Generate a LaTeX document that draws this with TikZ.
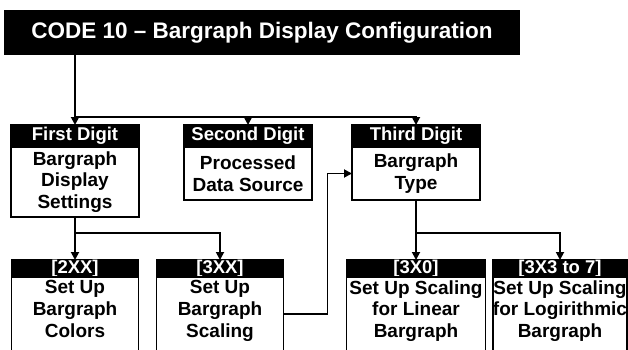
\documentclass[tikz,border=0pt]{standalone}
\usepackage{fontspec}
\setmainfont{Liberation Sans}
\usetikzlibrary{arrows.meta, positioning}

\begin{document}
\begin{tikzpicture}[x=1pt, y=-1pt,
  titlebox/.style={fill=black, text=white, inner sep=0pt, outer sep=0pt, font=\fontsize{22.5}{26}\selectfont\bfseries},
  headbox/.style={draw, fill=black, text=white, line width=1.8pt, inner sep=0pt, outer sep=0pt, minimum height=22pt, font=\fontsize{18.5}{21.7}\selectfont\bfseries},
  smallhead/.style={headbox, minimum height=17pt, text height=13pt, text depth=3.5pt},
  bodybox/.style={draw, fill=white, line width=1.8pt, align=center, inner sep=0pt, outer sep=0pt, font=\fontsize{19}{21.7}\selectfont\bfseries},
  lowbody/.style={bodybox, minimum height=74pt, execute at end node={\rule[-10pt]{0pt}{0pt}}},
  arr/.style={-{Triangle[width=8pt, length=8pt]}, line width=1.8pt},
]
\useasboundingbox (0,0) rectangle (628,350);

\node[titlebox, minimum width=516pt, minimum height=45pt] (title) at (262,32.5) {CODE 10 – Bargraph Display Configuration};

% digit boxes
\node[headbox, minimum width=128pt] (firsthead) at (75,136) {First Digit};
\node[bodybox, minimum width=128pt, minimum height=70pt, below=0pt of firsthead] (firstbody) {Bargraph\\Display\\Settings};
\node[headbox, minimum width=128pt] (secondhead) at (248,136) {Second Digit};
\node[bodybox, minimum width=128pt, minimum height=53pt, below=0pt of secondhead] (secondbody) {Processed\\Data Source};
\node[headbox, minimum width=128pt] (thirdhead) at (416,136) {Third Digit};
\node[bodybox, minimum width=128pt, minimum height=53pt, below=0pt of thirdhead] (thirdbody) {Bargraph\\Type};

% setup boxes
\node[smallhead, minimum width=127pt] (twohead) at (75,268.5) {[2XX]};
\node[lowbody, minimum width=127pt, below=0pt of twohead] (twobody) {Set Up\\Bargraph\\Colors};
\node[smallhead, minimum width=127pt] (threehead) at (220,268.5) {[3XX]};
\node[lowbody, minimum width=127pt, below=0pt of threehead] (threebody) {Set Up\\Bargraph\\Scaling};
\node[smallhead, minimum width=139pt] (linhead) at (416,268.5) {[3X0]};
\node[lowbody, minimum width=139pt, below=0pt of linhead] (linbody) {Set Up Scaling\\for Linear\\Bargraph};
\node[smallhead, minimum width=134pt] (loghead) at (560,268.5) {[3X3 to 7]};
\node[lowbody, minimum width=134pt, below=0pt of loghead] (logbody) {Set Up Scaling\\for Logirithmic\\Bargraph};

\coordinate (topbus) at (0,117);
\coordinate (lowbus) at (0,233);

\draw[arr] (title.south -| firsthead) -- (firsthead);
\draw[arr] (topbus -| firsthead) -| (thirdhead);
\draw[arr] (topbus -| secondhead) -- (secondhead);

\draw[arr] (firstbody) -- (twohead);
\draw[arr] (lowbus -| firstbody) -| (threehead);
\draw[arr] (thirdbody) -- (linhead);
\draw[arr] (lowbus -| thirdbody) -| (loghead);

\draw[arr] (threebody.east) -- ++(44,0) |- (thirdbody.west);

\end{tikzpicture}
\end{document}
